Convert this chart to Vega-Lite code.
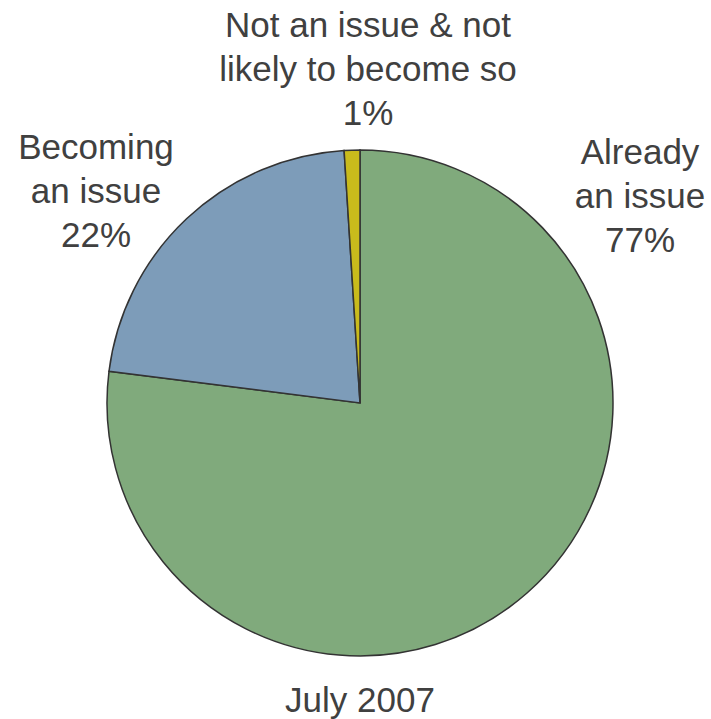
{
  "$schema": "https://vega.github.io/schema/vega-lite/v6.json",
  "autosize": {"type": "none"},
  "width": 506,
  "height": 506,
  "padding": {"left": 107, "top": 150, "right": 98, "bottom": 63},
  "background": "white",
  "data": {
    "values": [
      {"category": "Already an issue", "value": 77, "label": "Already\nan issue\n77%"},
      {"category": "Becoming an issue", "value": 22, "label": "Becoming\nan issue\n22%"},
      {"category": "Not an issue & not likely to become so", "value": 1, "label": "Not an issue & not\nlikely to become so\n1%"}
    ]
  },
  "title": {
    "text": "July 2007",
    "orient": "bottom",
    "anchor": "middle",
    "font": "Liberation Sans",
    "fontSize": 35,
    "fontWeight": "normal",
    "color": "#404040",
    "baseline": "top",
    "offset": 25
  },
  "view": {"stroke": null},
  "layer": [
    {
      "mark": {"type": "arc", "stroke": "#333333", "strokeWidth": 1.5},
      "encoding": {
        "theta": {"field": "value", "type": "quantitative", "stack": true},
        "order": {"field": "value", "sort": "descending"},
        "color": {
          "field": "category",
          "type": "nominal",
          "scale": {
            "domain": ["Already an issue", "Becoming an issue", "Not an issue & not likely to become so"],
            "range": ["#80aa7c", "#7d9cb9", "#c9bb1c"]
          },
          "legend": null
        }
      }
    },
    {
      "mark": {
        "type": "text",
        "font": "Liberation Sans",
        "fontSize": 35,
        "color": "#404040",
        "lineBreak": "\n",
        "lineHeight": 44,
        "align": "center",
        "baseline": "middle",
        "dx": {"expr": "datum.value == 77 ? 280 : datum.value == 22 ? -264 : 8"},
        "dy": {"expr": "datum.value == 77 ? -250 : datum.value == 22 ? -255 : -377"}
      },
      "encoding": {
        "text": {"field": "label", "type": "nominal"}
      }
    }
  ]
}
